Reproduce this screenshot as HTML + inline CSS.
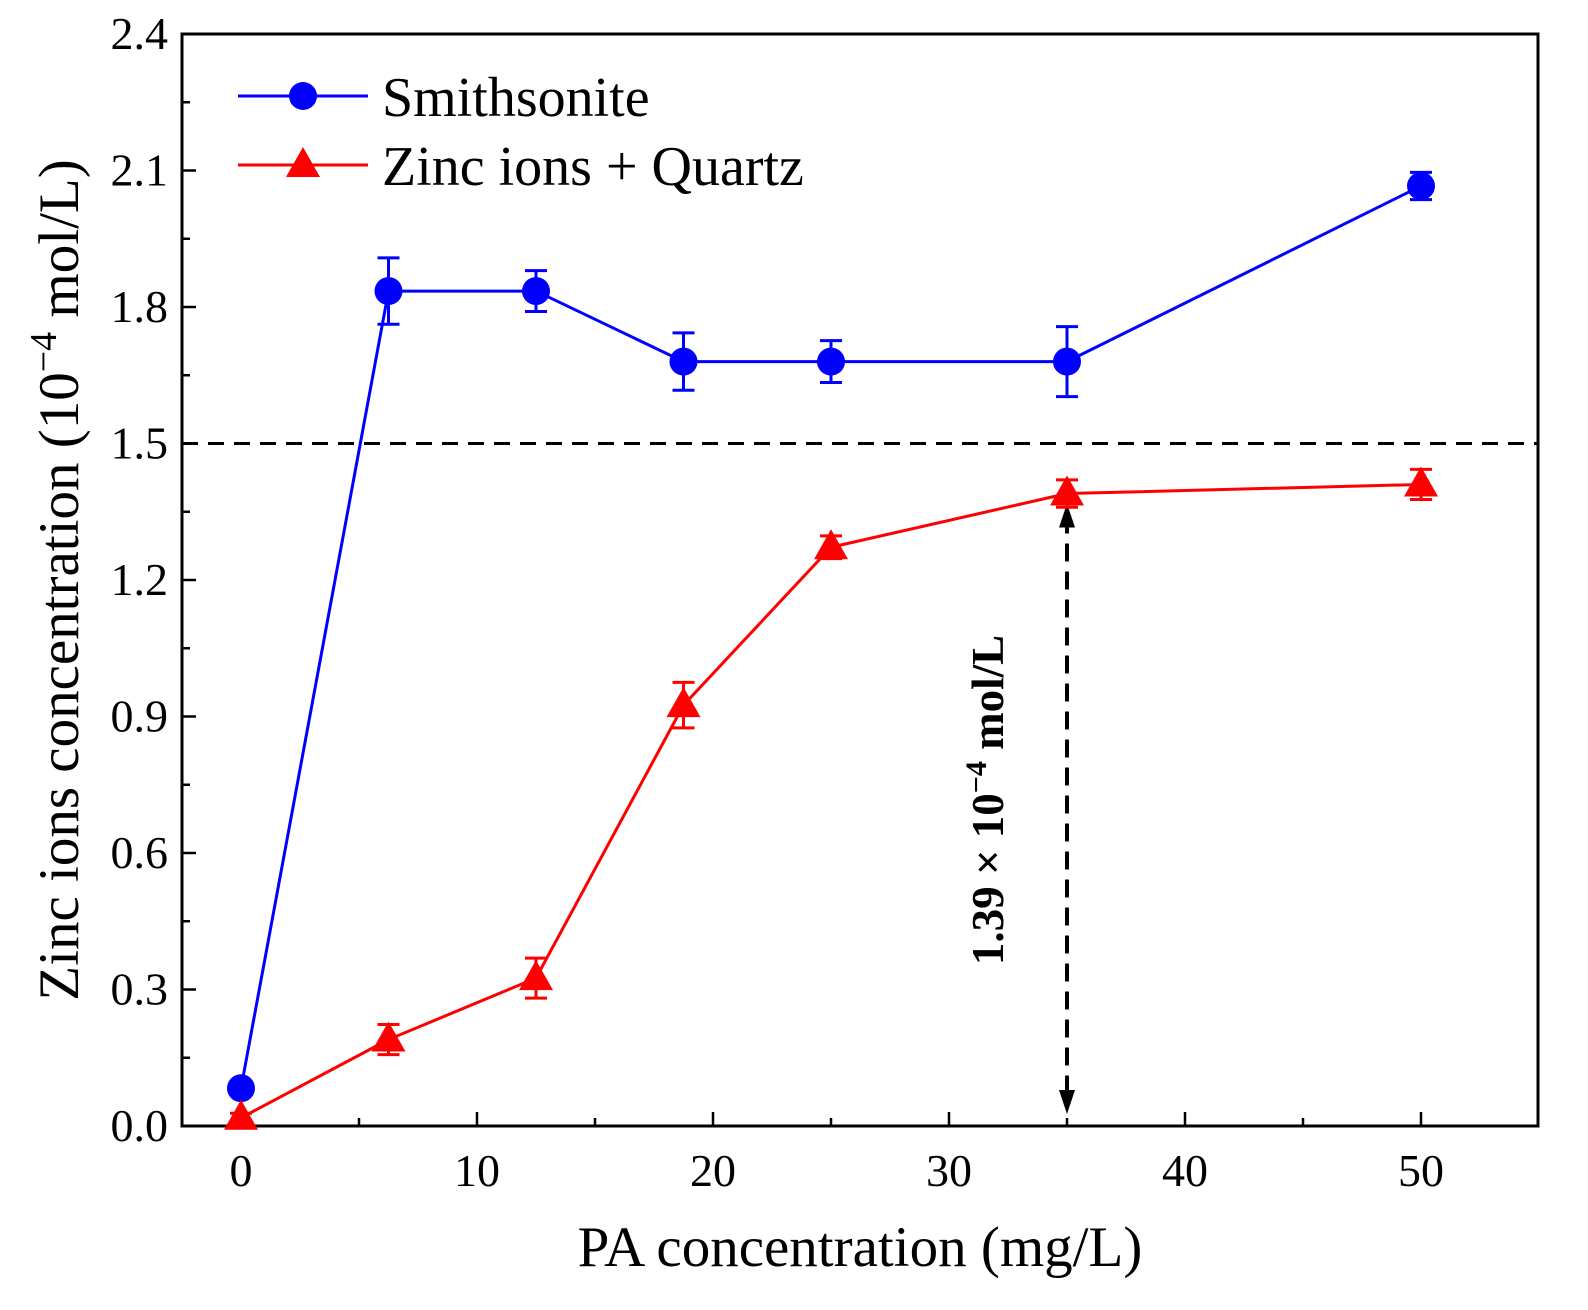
<!DOCTYPE html>
<html><head><meta charset="utf-8"><style>
html,body{margin:0;padding:0;background:#fff;}
svg{display:block;font-family:"Liberation Serif",serif;}
</style></head><body>
<svg id="chart" width="1588" height="1310" viewBox="0 0 1588 1310"></svg>
<script>
const xValues=[0,6.25,12.5,18.75,25,35,50];
const smithsonite=[0.083,1.835,1.835,1.68,1.68,1.68,2.066];
const smithErr=[0.01,0.073,0.045,0.063,0.046,0.077,0.03];
const quartz=[0.018,0.19,0.325,0.925,1.272,1.39,1.41];
const quartzErr=[0.01,0.033,0.044,0.05,0.025,0.03,0.033];
const yTicks=["0.0","0.3","0.6","0.9","1.2","1.5","1.8","2.1","2.4"];
const xTicks=["0","10","20","30","40","50"];
const refLine=1.5;
const annotX=35, annotY=1.39;

const L=182,R=1538,T=34,B=1126;
const sx=v=>241+v*23.6;
const sy=v=>B-v*(B-T)/2.4;
const svg=document.getElementById('chart');
const NS='http://www.w3.org/2000/svg';
function mk(tag,attrs,parent){const e=document.createElementNS(NS,tag);for(const k in attrs)e.setAttribute(k,attrs[k]);(parent||svg).appendChild(e);return e;}

let fr=mk('rect',{x:L,y:T,width:R-L,height:B-T,fill:'none',stroke:'#000','stroke-width':3});



yTicks.forEach((t,i)=>{
  const v=parseFloat(t),y=sy(v);
  mk('line',{x1:L,x2:L+14,y1:y,y2:y,stroke:'#000','stroke-width':2.5});
  if(i<yTicks.length-1){const ym=sy(v+0.15);mk('line',{x1:L,x2:L+8,y1:ym,y2:ym,stroke:'#000','stroke-width':2.5});}
  const tx=mk('text',{x:L-14,y:y+15,'font-size':46,'text-anchor':'end'});
  tx.textContent=t;
  
  
});
for(let v=-2.5;v<=55;v+=2.5){
  if(Math.abs(v%5)>0.01)continue;
  const x=sx(v);if(x<L+2||x>R-2)continue;
  const major=Math.abs(v%10)<0.01;
  mk('line',{x1:x,x2:x,y1:B,y2:B-(major?14:8),stroke:'#000','stroke-width':2.5});
}
xTicks.forEach(t=>{
  const tx=mk('text',{x:sx(parseFloat(t)),y:B+60,'font-size':46,'text-anchor':'middle'});
  tx.textContent=t;
  
  
});

let xt=mk('text',{x:860,y:1266,'font-size':57,'text-anchor':'middle'});
xt.textContent='PA concentration (mg/L)';


let yt=mk('text',{transform:'translate(78,580) rotate(-90)','font-size':57,'text-anchor':'middle'});
yt.innerHTML='Zinc ions concentration (10<tspan dy="-22" font-size="38">−4</tspan><tspan dy="22"> mol/L)</tspan>';



let rl=mk('line',{x1:L,x2:R,y1:sy(refLine),y2:sy(refLine),stroke:'#000','stroke-width':3,'stroke-dasharray':'16,10'});



const ax=sx(annotX);
let ar=mk('line',{x1:ax,x2:ax,y1:sy(annotY)+22,y2:B-22,stroke:'#000','stroke-width':4,'stroke-dasharray':'18,10'});


mk('polygon',{points:`${ax},${sy(annotY)+10} ${ax-8},${sy(annotY)+34} ${ax+8},${sy(annotY)+34}`,fill:'#000'});
mk('polygon',{points:`${ax},${B-12} ${ax-8},${B-36} ${ax+8},${B-36}`,fill:'#000'});
let at=mk('text',{transform:'translate(1003,800) rotate(-90)','font-size':45,'font-weight':'bold','text-anchor':'middle'});
at.innerHTML='1.39 × 10<tspan dy="-17" font-size="30">−4</tspan><tspan dy="17"> mol/L</tspan>';



function series(vals,errs,color,shape,name){
  const g=mk('g',{});
  
  
  const pl=mk('polyline',{points:vals.map((v,i)=>sx(xValues[i])+','+sy(v)).join(' '),fill:'none',stroke:color,'stroke-width':3},g);
  
  
  vals.forEach((v,i)=>{
    const x=sx(xValues[i]);
    const y1=sy(v+errs[i]),y2=sy(v-errs[i]);
    mk('line',{x1:x,x2:x,y1:y1,y2:y2,stroke:color,'stroke-width':3},g);
    mk('line',{x1:x-11,x2:x+11,y1:y1,y2:y1,stroke:color,'stroke-width':3},g);
    mk('line',{x1:x-11,x2:x+11,y1:y2,y2:y2,stroke:color,'stroke-width':3},g);
    let m;
    if(shape==='circle')m=mk('circle',{cx:x,cy:sy(v),r:14,fill:color},g);
    else{const y=sy(v);m=mk('polygon',{points:`${x},${y-18} ${x-17},${y+12} ${x+17},${y+12}`,fill:color},g);}
    
    
  });
}
series(smithsonite,smithErr,'#0000ff','circle','smithsonite');
series(quartz,quartzErr,'#ff0000','triangle','zinc-quartz');

let lg=mk('g',{});


mk('line',{x1:238,x2:368,y1:96,y2:96,stroke:'#0000ff','stroke-width':3},lg);
mk('circle',{cx:303,cy:96,r:14,fill:'#0000ff'},lg);
let l1=mk('text',{x:382,y:116,'font-size':56},lg);l1.textContent='Smithsonite';


mk('line',{x1:238,x2:368,y1:165,y2:165,stroke:'#ff0000','stroke-width':3},lg);
mk('polygon',{points:'303,147 286,177 320,177',fill:'#ff0000'},lg);
let l2=mk('text',{x:382,y:185,'font-size':56},lg);l2.textContent='Zinc ions + Quartz';


</script>
</body></html>
